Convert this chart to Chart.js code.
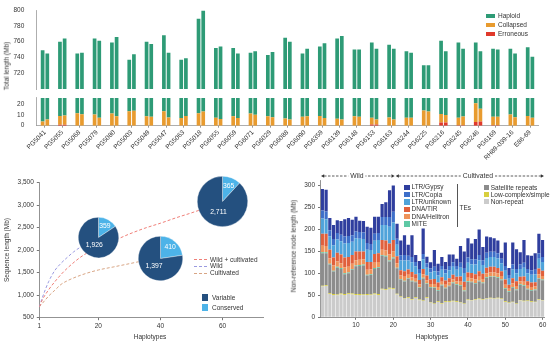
<!DOCTYPE html>
<html>
<head>
<meta charset="utf-8">
<script src="https://cdn.jsdelivr.net/npm/chart.js@4.4.0/dist/chart.umd.min.js"></script>
<style>
html, body { margin: 0; padding: 0; background: #fff; }
#page { position: relative; width: 554px; height: 343px; overflow: hidden; font-family: "Liberation Sans", Arial, sans-serif; color: #333; }
#page canvas { position: absolute; }
.lab { position: absolute; font-size: 6.5px; line-height: 1; white-space: nowrap; }
.sw { position: absolute; }
.dash { position: absolute; height: 0; }
</style>
</head>
<body>
<div id="page"></div>
<script>
// ---- top panel: assembly length per accession (two haplotypes each)
const accessions = ["PG5041", "PG5055", "PG5068", "PG5079", "PG5080", "PG5003", "PG5049", "PG5047", "PG5063", "PG5018",
    "PG6055", "PG6059", "PG6071", "PG6029", "PG6088", "PG6090", "PG6359", "PG6139", "PG6148", "PG6153",
    "PG6163", "PG6244", "PG6225", "PG6216", "PG6245", "PG6246", "PG6169", "RH89-039-16", "E86-69"];
const totalHap1 = [749, 760, 745, 764, 759, 737, 760, 768, 737, 789, 752, 752, 746, 743, 765, 745, 754, 764, 750, 759, 756, 748, 730, 761, 759, 759, 751, 751, 753];
const totalHap2 = [745, 764, 746, 761, 766, 744, 757, 746, 739, 799, 754, 745, 748, 747, 760, 751, 758, 767, 750, 751, 751, 746, 730, 748, 751, 748, 750, 745, 741];
const collapsedHap1 = [4, 8.2, 11.6, 10.5, 11.3, 13.6, 8.8, 13.6, 7.1, 11.6, 7.4, 8.8, 11.3, 8.8, 6.8, 8.3, 9, 6.5, 8.8, 6.2, 7.6, 7.4, 14.2, 8.1, 6.9, 17.5, 7.9, 10.5, 9];
const collapsedHap2 = [5.9, 8.8, 10.8, 7.4, 8.8, 13.9, 8.3, 7.6, 9, 13.3, 6.3, 7.1, 10.2, 8, 5.7, 8.8, 7.1, 5.9, 8.3, 4.5, 5.9, 7.4, 13.3, 7, 8, 11.8, 7.9, 8, 7.4];
const erroneousHap1 = [0, 0.8, 0, 0, 0, 0, 0, 0, 0, 0, 0, 0, 0, 0, 0, 0, 0, 0, 0, 1.2, 0, 0, 0, 2.9, 0.5, 3.4, 0.4, 0, 0];
const erroneousHap2 = [0, 0.8, 0, 0, 0, 0, 0, 0, 0, 0, 0, 0, 0, 0, 0, 0, 0, 0, 0, 1.2, 0, 0, 0, 2.9, 0.5, 4.0, 0.4, 0, 0];
const upperTicks = [720, 740, 760, 780, 800];
const lowerTicks = [0, 10, 20];

// ---- bottom left: pan-genome growth curves + pies
const wcHap = [1, 2, 4, 6, 8, 10, 15, 20, 25, 30, 35, 40, 45, 50, 55, 60];
const wcLen = [740, 900, 1120, 1300, 1460, 1600, 1880, 2060, 2210, 2360, 2490, 2600, 2720, 2830, 2950, 3076];
const wildHap = [1, 2, 4, 6, 8, 10, 12, 15, 20];
const wildLen = [740, 950, 1300, 1550, 1710, 1840, 1960, 2100, 2285];
const cultHap = [1, 2, 4, 6, 8, 10, 15, 20, 25, 30, 35, 40];
const cultLen = [740, 820, 980, 1110, 1240, 1320, 1460, 1560, 1630, 1700, 1770, 1807];
const pieHap = [20, 40, 60];
const pieVariable = [1926, 1397, 2711];
const pieConserved = [359, 410, 365];
const growthTicksX = [1, 20, 40, 60];

// ---- bottom right: non-reference node length per haplotype
const haplotypes = Array.from({ length: 60 }, (_, i) => String(i + 1));
const nonRepeat = [70, 71, 53, 51, 50, 52, 51, 53, 52, 51, 51, 50, 51, 50, 52, 51, 63, 62, 65, 64,
    52, 46, 42, 44, 40, 44, 39, 37, 44, 33, 30, 35, 31, 35, 35, 36, 35, 33, 30, 39,
    38, 40, 41, 40, 42, 43, 42, 43, 41, 35, 32, 34, 30, 38, 36, 37, 35, 34, 40, 38];
const lowComplex = [2, 2, 2, 2, 2, 2, 2, 2, 2, 2, 2, 2, 2, 2, 2, 2, 2, 2, 2, 2,
    1.5, 1.5, 1.5, 1.5, 1.5, 1.5, 1.5, 1.5, 1.5, 1.5, 1.5, 1.5, 1.5, 1.5, 1.5, 1.5, 1.5, 1.5, 1.5, 1.5,
    1.5, 1.5, 1.5, 1.5, 1.5, 1.5, 1.5, 1.5, 1.5, 1.5, 1.5, 1.5, 1.5, 1.5, 1.5, 1.5, 1.5, 1.5, 1.5, 1.5];
const satellite = [74, 73, 65, 51, 61, 56, 45, 45, 54, 63, 64, 66, 42, 44, 56, 59, 75, 74, 60, 68,
    58, 38, 38, 42, 40, 34, 26, 50, 30, 33, 35, 24, 40, 29, 34, 40, 37, 37, 28, 40,
    40, 35, 39, 36, 46, 47, 48, 45, 42, 28, 24, 32, 30, 34, 34, 25, 24, 26, 46, 45];
const mite = [2, 2, 2, 2, 2, 2, 2, 2, 2, 2, 2, 2, 2, 2, 2, 2, 2, 2, 2, 2,
    1.5, 1.5, 1.5, 1.5, 1.5, 1.5, 1.5, 1.5, 1.5, 1.5, 1.5, 1.5, 1.5, 1.5, 1.5, 1.5, 1.5, 1.5, 1.5, 1.5,
    1.5, 1.5, 1.5, 1.5, 1.5, 1.5, 1.5, 1.5, 1.5, 1.5, 1.5, 1.5, 1.5, 1.5, 1.5, 1.5, 1.5, 1.5, 1.5, 1.5];
const helitron = [15, 14, 12, 12, 12, 11, 14, 13, 12, 12, 12, 12, 11, 11, 12, 12, 12, 12, 14, 14,
    10, 8, 9, 8, 8, 7, 7, 8, 7, 7, 8, 7, 7, 7, 7, 7, 7, 8, 8, 8,
    8, 8, 9, 8, 9, 9, 9, 9, 8, 8, 6, 8, 8, 7, 8, 7, 7, 7, 9, 8];
const tir = [27, 28, 20, 18, 20, 20, 22, 22, 20, 20, 19, 18, 18, 17, 20, 20, 22, 23, 25, 26,
    16, 12, 13, 12, 12, 10, 10, 12, 11, 10, 11, 10, 10, 10, 10, 11, 10, 12, 12, 12,
    12, 12, 13, 12, 13, 13, 13, 12, 11, 12, 9, 12, 11, 10, 12, 10, 10, 10, 13, 12];
const ltrUnknown = [35, 33, 30, 28, 30, 30, 32, 32, 30, 30, 29, 28, 28, 27, 30, 30, 34, 35, 38, 40,
    26, 22, 24, 20, 22, 18, 16, 22, 18, 16, 18, 16, 17, 16, 18, 18, 16, 20, 20, 22,
    20, 22, 24, 20, 22, 22, 22, 22, 18, 20, 14, 20, 18, 18, 20, 18, 18, 18, 22, 20];
const copia = [18, 18, 14, 14, 15, 15, 16, 16, 15, 15, 15, 15, 15, 14, 16, 16, 18, 18, 22, 24,
    14, 12, 13, 11, 12, 10, 9, 12, 10, 9, 10, 9, 9, 9, 10, 10, 9, 11, 11, 12,
    11, 12, 13, 11, 12, 12, 12, 12, 10, 11, 8, 11, 10, 10, 11, 10, 10, 10, 12, 11];
const gypsy = [49, 49, 28, 32, 29, 31, 39, 41, 35, 34, 26, 26, 37, 37, 39, 37, 30, 34, 61, 60,
    34, 34, 45, 25, 50, 16, 18, 58, 15, 14, 38, 18, 20, 17, 26, 18, 16, 38, 38, 44,
    36, 46, 58, 30, 37, 33, 31, 29, 14, 53, 16, 50, 45, 28, 52, 31, 33, 38, 45, 39];
const nodeTicksY = [0, 50, 100, 150, 200, 250, 300];
const groups = [
    { label: "Wild", from: 1, to: 20 },
    { label: "Cultivated", from: 21, to: 60 }
];

const FONT = '"Liberation Sans", Arial, sans-serif';
Chart.defaults.font.family = FONT;
Chart.defaults.font.size = 6.5;
Chart.defaults.color = "#333";
Chart.defaults.animation = false;

const page = document.getElementById("page");

function makeCanvas(left, top, w, h) {
    const c = document.createElement("canvas");
    c.width = w;
    c.height = h;
    c.style.left = left + "px";
    c.style.top = top + "px";
    c.style.width = w + "px";
    c.style.height = h + "px";
    page.appendChild(c);
    return c;
}

function addText(text, x, y, opt = {}) {
    const d = document.createElement("div");
    d.className = "lab";
    d.textContent = text;
    d.style.left = x + "px";
    d.style.top = y + "px";
    if (opt.size) d.style.fontSize = opt.size + "px";
    let tf = "translateY(-50%)";
    if (opt.center) tf = "translate(-50%,-50%)";
    if (opt.rotate) tf = "translate(-50%,-50%) rotate(-90deg)";
    d.style.transform = tf;
    page.appendChild(d);
}

function addSwatch(x, y, w, h, color) {
    const d = document.createElement("div");
    d.className = "sw";
    d.style.left = x + "px";
    d.style.top = (y - h / 2) + "px";
    d.style.width = w + "px";
    d.style.height = h + "px";
    d.style.background = color;
    page.appendChild(d);
}

function addDash(x, y, w, color) {
    const d = document.createElement("div");
    d.className = "dash";
    d.style.left = x + "px";
    d.style.top = y + "px";
    d.style.width = w + "px";
    d.style.borderTop = "1px dashed " + color;
    page.appendChild(d);
}

const fixedTicks = vals => scale => { scale.ticks = vals.map(v => ({ value: v })); };

// ---------------- top panel (broken axis: two charts)
const C_HAP = "#2e9b76", C_COL = "#e89b2f", C_ERR = "#e0392b";

function topDatasets() {
    const ds = [];
    [[totalHap1, collapsedHap1, erroneousHap1], [totalHap2, collapsedHap2, erroneousHap2]].forEach(([tot, col, err], i) => {
        const stack = "hap" + (i + 1);
        ds.push({ label: "Erroneous", data: err, backgroundColor: C_ERR, stack });
        ds.push({ label: "Collapsed", data: col, backgroundColor: C_COL, stack });
        ds.push({ label: "Haploid", data: tot.map((t, k) => t - col[k] - err[k]), backgroundColor: C_HAP, stack });
    });
    return ds;
}

const topBar = { categoryPercentage: 0.54, barPercentage: 0.79 };

new Chart(makeCanvas(0, 0, 554, 97), {
    type: "bar",
    data: { labels: accessions, datasets: topDatasets() },
    options: {
        responsive: false,
        layout: { padding: { top: 10, right: 15.3, bottom: 4.5, left: 0 } },
        datasets: { bar: topBar },
        plugins: { legend: { display: false }, tooltip: { enabled: false } },
        scales: {
            x: { display: false, stacked: true },
            y: {
                stacked: true, min: 700, max: 800,
                afterFit: s => { s.width = 36.3; },
                afterBuildTicks: fixedTicks(upperTicks),
                grid: { display: false },
                border: { color: "#999", width: 0.8 },
                ticks: { padding: 4 }
            }
        }
    }
});

new Chart(makeCanvas(0, 90, 554, 80), {
    type: "bar",
    data: { labels: accessions, datasets: topDatasets() },
    options: {
        responsive: false,
        layout: { padding: { top: 5, right: 15.3, bottom: 0, left: 0 } },
        datasets: { bar: topBar },
        plugins: { legend: { display: false }, tooltip: { enabled: false } },
        scales: {
            x: {
                stacked: true,
                afterFit: s => { s.height = 44.3; },
                grid: { drawOnChartArea: false, offset: false, tickLength: 2, color: "#999" },
                border: { color: "#999", width: 0.8 },
                ticks: { autoSkip: false, minRotation: 45, maxRotation: 45, padding: 1 }
            },
            y: {
                stacked: true, min: 0, max: 26,
                afterFit: s => { s.width = 36.3; },
                afterBuildTicks: fixedTicks(lowerTicks),
                grid: { display: false },
                border: { color: "#999", width: 0.8 },
                ticks: { padding: 4 }
            }
        }
    }
});

addText("Total length (Mb)", 7, 66, { rotate: true });
[["Haploid", C_HAP, 16], ["Collapsed", C_COL, 25], ["Erroneous", C_ERR, 34]].forEach(([t, c, y]) => {
    addSwatch(486, y, 9, 3.4, c);
    addText(t, 498, y);
});

// ---------------- bottom left: growth curves
const pts = (xs, ys) => xs.map((x, i) => ({ x, y: ys[i] }));
const curve = (label, data, color) => ({
    label, data, borderColor: color, borderWidth: 1, borderDash: [3, 2],
    pointRadius: 0, cubicInterpolationMode: "monotone", fill: false
});
const C_WC = "#ef7f78", C_WILD = "#9a9ae0", C_CULT = "#d8a584";

const growth = new Chart(makeCanvas(0, 170, 275, 173), {
    type: "line",
    data: {
        datasets: [
            curve("Wild + cultivated", pts(wcHap, wcLen), C_WC),
            curve("Wild", pts(wildHap, wildLen), C_WILD),
            curve("Cultivated", pts(cultHap, cultLen), C_CULT)
        ]
    },
    options: {
        responsive: false,
        layout: { padding: { top: 12.7, right: 12, bottom: 0, left: 0 } },
        plugins: { legend: { display: false }, tooltip: { enabled: false } },
        scales: {
            x: {
                type: "linear", min: 1, max: 73,
                afterFit: s => { s.height = 25.3; },
                afterBuildTicks: fixedTicks(growthTicksX),
                grid: { drawOnChartArea: false, tickLength: 2.5, color: "#777" },
                border: { color: "#777", width: 0.8 },
                ticks: { padding: 2 }
            },
            y: {
                min: 500, max: 3500,
                afterFit: s => { s.width = 39.3; },
                ticks: { stepSize: 500, padding: 3 },
                grid: { drawOnChartArea: false, tickLength: 2.5, color: "#777" },
                border: { color: "#777", width: 0.8 }
            }
        }
    }
});

// pies sit on the end point of each curve
const C_VAR = "#24507f", C_CON = "#4db3e8";
const pieRadius = [20.3, 22.5, 25.3];
const pieLabelRadius = [0.66, 0.44];
const pieLabels = {
    id: "pieLabels",
    afterDatasetsDraw(chart) {
        const ctx = chart.ctx;
        const meta = chart.getDatasetMeta(0);
        ctx.save();
        ctx.fillStyle = "#fff";
        ctx.font = "6.8px " + FONT;
        ctx.textAlign = "center";
        ctx.textBaseline = "middle";
        meta.data.forEach((arc, i) => {
            const mid = (arc.startAngle + arc.endAngle) / 2;
            const r = arc.outerRadius * pieLabelRadius[i];
            const v = chart.data.datasets[0].data[i];
            ctx.fillText(v.toLocaleString("en-US"), arc.x + Math.cos(mid) * r, arc.y + Math.sin(mid) * r);
        });
        ctx.restore();
    }
};

pieHap.forEach((h, i) => {
    const r = pieRadius[i];
    const cx = growth.scales.x.getPixelForValue(h);
    const cy = 170 + growth.scales.y.getPixelForValue(pieVariable[i] + pieConserved[i]);
    const size = Math.ceil(2 * r + 2);
    new Chart(makeCanvas(cx - size / 2, cy - size / 2, size, size), {
        type: "pie",
        data: {
            labels: ["Conserved", "Variable"],
            datasets: [{
                data: [pieConserved[i], pieVariable[i]],
                backgroundColor: [C_CON, C_VAR],
                borderColor: "rgba(255,255,255,0.7)",
                borderWidth: 0.5
            }]
        },
        options: {
            responsive: false,
            layout: { padding: 1 },
            plugins: { legend: { display: false }, tooltip: { enabled: false } }
        },
        plugins: [pieLabels]
    });
});

addText("Sequence length (Mb)", 6.5, 250, { rotate: true });
addText("Haplotypes", 150, 337, { center: true });
[["Wild + cultivated", C_WC, 259.7], ["Wild", C_WILD, 266.3], ["Cultivated", C_CULT, 273.3]].forEach(([t, c, y]) => {
    addDash(194, y - 0.5, 13, c);
    addText(t, 210, y);
});
addSwatch(201.7, 297.7, 6.5, 6.5, C_VAR);
addText("Variable", 212, 297.7);
addSwatch(201.7, 307.7, 6.5, 6.5, C_CON);
addText("Conserved", 212, 307.7);

// ---------------- bottom right: stacked bars
const layers = [
    ["Non-repeat", nonRepeat, "#cbcbcb"],
    ["Low-complex/simple", lowComplex, "#d8cf3e"],
    ["Satellite repeats", satellite, "#8c8c8c"],
    ["MITE", mite, "#5ec9a5"],
    ["DNA/Helitron", helitron, "#ee935a"],
    ["DNA/TIR", tir, "#e0603c"],
    ["LTR/unknown", ltrUnknown, "#4fa3da"],
    ["LTR/Copia", copia, "#3e6fc9"],
    ["LTR/Gypsy", gypsy, "#2f3e9e"]
];

const groupBand = {
    id: "groupBand",
    afterDraw(chart) {
        const ctx = chart.ctx;
        const x = chart.scales.x;
        const half = (x.getPixelForValue(1) - x.getPixelForValue(0)) / 2;
        const y = 6;
        ctx.save();
        ctx.strokeStyle = "#333";
        ctx.fillStyle = "#333";
        ctx.lineWidth = 0.8;
        groups.forEach(g => {
            const x0 = x.getPixelForValue(g.from - 1) - half + 0.5;
            const x1 = x.getPixelForValue(g.to - 1) + half - 0.5;
            ctx.setLineDash([2.5, 1.5]);
            ctx.beginPath();
            ctx.moveTo(x0 + 3, y);
            ctx.lineTo(x1 - 3, y);
            ctx.stroke();
            ctx.setLineDash([]);
            ctx.beginPath();
            ctx.moveTo(x0, y); ctx.lineTo(x0 + 3.2, y - 1.7); ctx.lineTo(x0 + 3.2, y + 1.7); ctx.closePath();
            ctx.moveTo(x1, y); ctx.lineTo(x1 - 3.2, y - 1.7); ctx.lineTo(x1 - 3.2, y + 1.7); ctx.closePath();
            ctx.fill();
            ctx.font = "6.8px " + FONT;
            const w = ctx.measureText(g.label).width;
            const mid = (x0 + x1) / 2 + (g.from === 1 ? -1 : 8);
            ctx.fillStyle = "#fff";
            ctx.fillRect(mid - w / 2 - 2, y - 4, w + 4, 8);
            ctx.fillStyle = "#333";
            ctx.textAlign = "center";
            ctx.textBaseline = "middle";
            ctx.fillText(g.label, mid, y + 0.5);
        });
        ctx.restore();
    }
};

new Chart(makeCanvas(280, 170, 274, 173), {
    type: "bar",
    data: {
        labels: haplotypes,
        datasets: layers.map(([label, data, color]) => ({ label, data, backgroundColor: color }))
    },
    options: {
        responsive: false,
        layout: { padding: { top: 10.2, right: 9.5, bottom: 0, left: 0 } },
        datasets: { bar: { categoryPercentage: 1, barPercentage: 0.86 } },
        plugins: { legend: { display: false }, tooltip: { enabled: false } },
        scales: {
            x: {
                stacked: true,
                afterFit: s => { s.height = 25.7; },
                grid: {
                    drawOnChartArea: false, offset: false, tickLength: 2.5,
                    color: ctx => ((ctx.index + 1) % 10 === 0 ? "#777" : "rgba(0,0,0,0)")
                },
                border: { color: "#777", width: 0.8 },
                ticks: { autoSkip: false, maxRotation: 0, padding: 2, callback: (v, i) => ((i + 1) % 10 === 0 ? haplotypes[i] : "") }
            },
            y: {
                stacked: true, min: 0, max: 312,
                afterFit: s => { s.width = 40.5; },
                afterBuildTicks: fixedTicks(nodeTicksY),
                grid: { drawOnChartArea: false, tickLength: 2.5, color: "#777" },
                border: { color: "#777", width: 0.8 },
                ticks: { padding: 3 }
            }
        }
    },
    plugins: [groupBand]
});

addText("Non-reference node length (Mb)", 294, 246, { rotate: true });
addText("Haplotypes", 432, 337, { center: true });
const teLegend = layers.slice(3).reverse();
teLegend.forEach(([label, , color], i) => {
    const y = 187.3 + i * 7.35;
    addSwatch(404, y, 5.5, 5.5, color);
    addText(label, 411.5, y);
});
const vline = document.createElement("div");
vline.style.cssText = "position:absolute;left:456.5px;top:184px;width:0.8px;height:43px;background:#555;";
page.appendChild(vline);
addText("TEs", 459.5, 207.5);
layers.slice(0, 3).reverse().forEach(([label, , color], i) => {
    const y = 187.5 + i * 7;
    addSwatch(483.5, y, 5.5, 5.5, color);
    addText(label, 490.7, y);
});
</script>
</body>
</html>
